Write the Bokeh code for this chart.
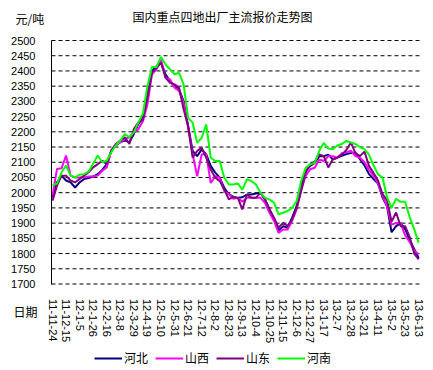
import pandas as pd
from bokeh.plotting import figure
from bokeh.models import Range1d, FixedTicker, Legend, LegendItem, LinearAxis, Label
from bokeh.embed import file_html
from bokeh.resources import INLINE

# weekly observation dates
start = pd.Timestamp("2011-11-24")
dates = pd.date_range(start, periods=82, freq="7D")

hebei = [1985, 2034, 2056, 2040, 2034, 2017, 2034, 2045, 2048, 2053, 2061, 2075, 2094, 2138, 2155, 2166, 2171, 2166, 2193, 2226,
         2246, 2323, 2400, 2416, 2427, 2389, 2367, 2350, 2339, 2301, 2219, 2137, 2120, 2142, 2126, 2088, 2066, 2049, 2016, 1995,
         1986, 1983, 1985, 1994, 1994, 1997, 2000, 1978, 1945, 1912, 1876, 1890, 1885, 1918, 1956, 2027, 2071, 2088, 2098, 2120,
         2120, 2125, 2110, 2115, 2121, 2127, 2130, 2132, 2110, 2090, 2061, 2045, 2030, 1984, 1955, 1870, 1890, 1900, 1880, 1845,
         1815, 1785]
shanxi = [1990, 2078, 2080, 2122, 2056, 2050, 2050, 2050, 2053, 2053, 2056, 2072, 2083, 2138, 2155, 2166, 2176, 2182, 2198, 2209,
          2235, 2290, 2389, 2405, 2438, 2378, 2372, 2345, 2334, 2295, 2213, 2126, 2054, 2126, 2126, 2032, 2054, 2049, 2005, 1995,
          1980, 1983, 1970, 1983, 1983, 1983, 1983, 1967, 1934, 1907, 1868, 1879, 1879, 1907, 1945, 2011, 2055, 2077, 2082, 2109,
          2104, 2120, 2120, 2115, 2130, 2132, 2138, 2120, 2115, 2100, 2075, 2055, 2030, 1990, 1955, 1895, 1900, 1900, 1860, 1838,
          1810, 1798]
shandong = [1974, 2023, 2056, 2056, 2040, 2034, 2045, 2056, 2067, 2083, 2094, 2105, 2094, 2138, 2160, 2171, 2182, 2160, 2209, 2231,
            2240, 2312, 2394, 2410, 2427, 2378, 2361, 2356, 2345, 2274, 2219, 2115, 2137, 2148, 2115, 2076, 2049, 2038, 2010, 1978,
            1986, 1983, 1945, 1994, 1983, 1983, 2000, 1978, 1945, 1918, 1885, 1901, 1890, 1912, 1950, 2005, 2066, 2093, 2102, 2126,
            2120, 2083, 2110, 2115, 2125, 2140, 2165, 2130, 2120, 2135, 2088, 2065, 2040, 1995, 1975, 1905, 1935, 1890, 1890, 1855,
            1800, 1781]
henan = [2023, 2030, 2067, 2089, 2056, 2050, 2059, 2061, 2070, 2096, 2122, 2100, 2105, 2133, 2155, 2171, 2193, 2182, 2198, 2231,
         2260, 2350, 2413, 2413, 2446, 2421, 2405, 2389, 2394, 2356, 2246, 2230, 2164, 2180, 2224, 2115, 2104, 2104, 2049, 2027,
         2027, 2030, 2010, 2044, 2038, 2027, 2000, 1983, 1978, 1967, 1929, 1934, 1940, 1950, 1972, 2038, 2082, 2093, 2098, 2137,
         2164, 2145, 2143, 2155, 2160, 2170, 2165, 2160, 2150, 2143, 2125, 2090, 2060, 2050, 1985, 1950, 1980, 1970, 1970, 1920,
         1880, 1835]

tick_labels = ["11-11-24", "11-12-15", "12-1-5", "12-1-26", "12-2-16", "12-3-8", "12-3-29", "12-4-19",
               "12-5-10", "12-5-31", "12-6-21", "12-7-12", "12-8-2", "12-8-23", "12-9-13", "12-10-4",
               "12-10-25", "12-11-15", "12-12-6", "12-12-27", "13-1-17", "13-2-7", "13-2-28", "13-3-21",
               "13-4-11", "13-5-2", "13-5-23", "13-6-13"]
y_ticks = list(range(1700, 2501, 50))

series_names = ["河北", "山西", "山东", "河南"]
series_colors = ["#000080", "#FF00FF", "#800080", "#00FF00"]
chart_title = "国内重点四地出厂主流报价走势图"
y_unit = "元/吨"
x_name = "日期"

days = [(d - start).days for d in dates]
tick_days = [(pd.Timestamp("20" + t) - start).days for t in tick_labels]

CJK = "Noto Sans CJK SC"
NUM = "Liberation Sans"

# plotting window (data units) and the full canvas view around it
W, H = 433, 370
PX_DAY = 366.2 / 567.0          # pixels per day
PX_VAL = 243.5 / 800.0          # pixels per yuan
x_lo, x_hi = -1.55, 571.3       # plot area in days
y_lo, y_hi = 1700, 2500         # plot area in yuan
view_x0 = -52.0 / PX_DAY
view_y1 = y_hi + 40.0 / PX_VAL

p = figure(width=W, height=H, output_backend="svg", toolbar_location=None,
           x_axis_location=None, y_axis_location=None,
           x_range=Range1d(view_x0, view_x0 + W / PX_DAY),
           y_range=Range1d(view_y1 - H / PX_VAL, view_y1),
           min_border=0, min_border_left=0, min_border_right=0, min_border_top=0, min_border_bottom=0)
p.title.visible = False
p.outline_line_color = None
p.background_fill_color = "white"
p.border_fill_color = "white"
p.grid.visible = False

# dashed horizontal grid at the value ticks, spanning the plot window
p.segment(x0=[x_lo] * len(y_ticks), x1=[x_hi] * len(y_ticks), y0=y_ticks, y1=y_ticks,
          line_color="black", line_dash="4 3", line_width=1)

yaxis = LinearAxis(fixed_location=x_lo, bounds=(y_lo, y_hi), ticker=FixedTicker(ticks=y_ticks),
                   axis_line_color="black", major_tick_line_color=None, minor_tick_line_color=None,
                   major_label_standoff=10, major_label_text_font=NUM,
                   major_label_text_font_size="11px", major_label_text_color="black")
p.add_layout(yaxis, "left")

xaxis = LinearAxis(fixed_location=y_lo, bounds=(x_lo, x_hi), ticker=FixedTicker(ticks=tick_days),
                   major_label_overrides={d: t for d, t in zip(tick_days, tick_labels)},
                   major_label_orientation="vertical",
                   axis_line_color=None, major_tick_line_color=None, minor_tick_line_color=None,
                   major_label_standoff=9, major_label_text_font=NUM,
                   major_label_text_font_size="11px", major_label_text_color="black")
p.add_layout(xaxis, "below")

items = []
for name, vals, col in zip(series_names, [hebei, shanxi, shandong, henan], series_colors):
    r = p.line(days, vals, line_color=col, line_width=2)
    items.append(LegendItem(label=name, renderers=[r]))

legend = Legend(items=items, orientation="horizontal", location=(94, 4),
                glyph_width=28, glyph_height=16, label_height=16, label_standoff=2, spacing=7,
                padding=0, margin=0, border_line_color=None, background_fill_alpha=0,
                label_text_font=CJK, label_text_font_size="12px", label_text_color="black")
p.add_layout(legend, "center")

p.add_layout(Label(x=15, y=H - 18, x_units="screen", y_units="screen", text=y_unit,
                   text_font=CJK, text_font_size="12px", text_baseline="middle", text_color="black"))
p.add_layout(Label(x=13, y=H - 311, x_units="screen", y_units="screen", text=x_name,
                   text_font=CJK, text_font_size="12px", text_baseline="middle", text_color="black"))
p.add_layout(Label(x=222, y=H - 16, x_units="screen", y_units="screen", text=chart_title,
                   text_font=CJK, text_font_size="12px", text_baseline="middle", text_align="center",
                   text_color="black"))

open("out.html", "w").write(file_html(p, INLINE))
